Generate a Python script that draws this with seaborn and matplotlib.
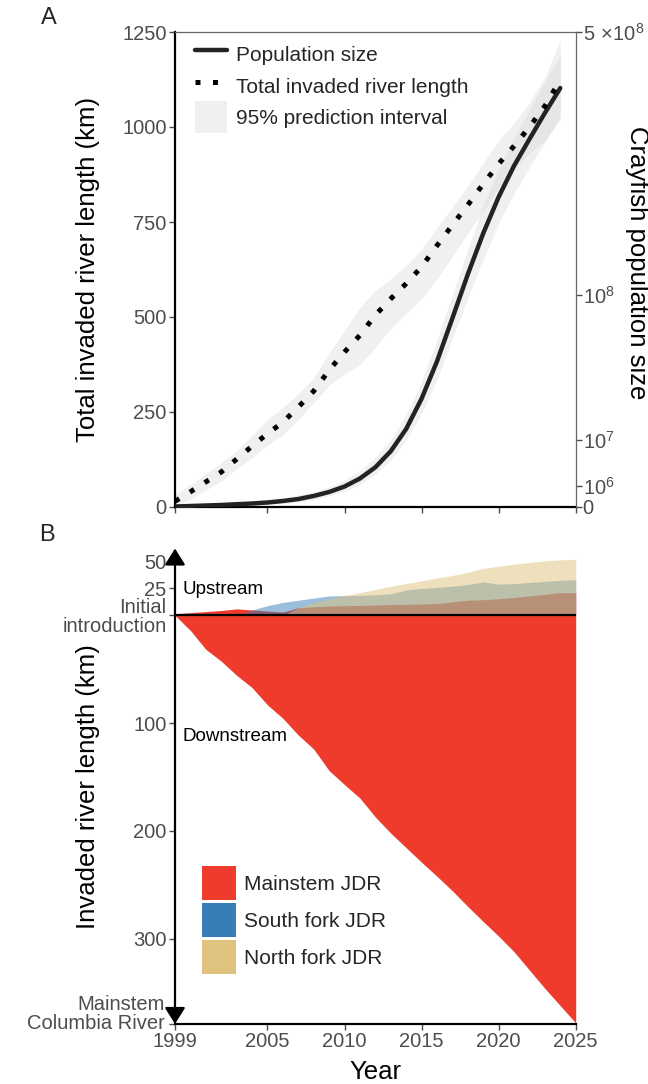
import numpy as np
import pandas as pd
import matplotlib
matplotlib.use("Agg")
import matplotlib.pyplot as plt
import matplotlib.transforms as mtransforms
import seaborn as sns
from matplotlib.lines import Line2D
from matplotlib.patches import Patch, Rectangle
from matplotlib.legend_handler import HandlerPatch

# ---------------- data ----------------
years_a = list(range(1999, 2025))
river_length = [15, 40, 66, 92, 126, 160, 193, 223, 263, 305, 360, 408, 452,
                505, 548, 588, 632, 688, 742, 795, 850, 903, 950, 1000, 1055, 1124]
river_lo = [0, 22, 45, 68, 100, 130, 163, 190, 230, 275, 320, 350, 375,
            420, 470, 510, 548, 600, 660, 720, 780, 840, 890, 930, 965, 1020]
river_hi = [35, 58, 88, 116, 148, 188, 230, 262, 298, 340, 405, 465, 525,
            570, 600, 635, 678, 735, 790, 845, 905, 965, 1010, 1065, 1130, 1230]
population = [550, 2200, 5000, 8900, 17000, 27000, 45000, 80000, 1.4e5, 2.7e5,
              5.0e5, 9.3e5, 1.8e6, 3.5e6, 6.9e6, 1.35e7, 2.6e7, 4.7e7, 7.9e7,
              1.2e8, 1.66e8, 2.13e8, 2.58e8, 3.0e8, 3.44e8, 3.89e8]
pop_lo = [0, 0, 550, 2200, 5000, 8900, 14000, 27000, 55000, 1.25e5, 2.7e5,
          5.3e5, 1.12e6, 2.4e6, 4.9e6, 9.9e6, 1.95e7, 3.6e7, 6.3e7, 9.7e7,
          1.36e8, 1.78e8, 2.18e8, 2.56e8, 2.95e8, 3.37e8]
pop_hi = [5000, 14000, 20000, 27000, 45000, 67000, 1.09e5, 1.8e5, 3.2e5, 5.0e5,
          8.9e5, 1.6e6, 2.9e6, 5.5e6, 1.0e7, 1.88e7, 3.5e7, 6.2e7, 1.0e8,
          1.47e8, 2.02e8, 2.53e8, 3.0e8, 3.5e8, 4.0e8, 4.53e8]

years_b = list(range(1999, 2026))
mainstem_down = [0, 14, 31.5, 42.5, 55.6, 67, 83, 95.5, 111, 124, 144, 157, 169.5,
                 187, 202, 215.5, 229, 242, 255.5, 270, 284, 297.5, 312, 329, 346,
                 362, 378]
mainstem_up = [1.5, 2.5, 3.5, 4.5, 6, 5, 4, 3, 7, 8, 8.6, 9, 9.2, 9.5, 10, 10.2,
               10.5, 11, 12.5, 14, 14.5, 15.4, 16.5, 18, 19.5, 21, 21]
south_fork = [0, 0, 0, 0, 0, 5, 9, 12, 14, 16, 18, 18.3, 18.5, 19, 20, 23.5, 25,
              26, 27, 28.5, 31, 29, 29.5, 30.5, 31.5, 32.5, 33]
north_fork = [0, 0, 0, 0, 0, 0, 0, 0, 7, 12, 15, 18.5, 21, 24, 27, 29.5, 32, 34.6,
              37, 40, 43.6, 45.5, 47.5, 49, 50.5, 51.5, 52]

year_ticks = [1999, 2005, 2010, 2015, 2020, 2025]
left_ticks_a = [0, 250, 500, 750, 1000, 1250]
right_ticks_a = [0, 1e6, 1e7, 1e8, 5e8]
right_labels_a = ["0", r"$10^{6}$", r"$10^{7}$", r"$10^{8}$", r"$5\,\times\!10^{8}$"]
b_ticks = [50, 25, 0, -100, -200, -300, -379]
b_labels = ["50", "25", "Initial\nintroduction", "100", "200", "300", ""]
bottom_label = "Mainstem\nColumbia River"

RED = "#ef3b2c"
BLUE = "#377eb8"
TAN = "#dfc27d"
GREY_TXT = "#4d4d4d"

# ---------------- style ----------------
sns.set_theme(style="white")
plt.rcParams["font.family"] = ["Liberation Sans", "DejaVu Sans"]
plt.rcParams["mathtext.fontset"] = "custom"
plt.rcParams["mathtext.rm"] = "Liberation Sans"
plt.rcParams["mathtext.it"] = "Liberation Sans:italic"
plt.rcParams["mathtext.bf"] = "Liberation Sans:bold"

W, H = 648, 1084
fig = plt.figure(figsize=(W / 100, H / 100), dpi=100)

TICK_FS = 14.5
TITLE_FS = 18.5
LEG_FS = 15


def square_patch(size_pt):
    def make(legend, orig_handle, xdescent, ydescent, width, height, fontsize):
        cy = -ydescent + height / 2.0
        return Rectangle((-xdescent, cy - size_pt / 2.0), width, size_pt)
    return make


# ---------------- panel A ----------------
ax = fig.add_axes([175 / W, 1 - 507 / H, 400.7 / W, 475 / H])
ax2 = ax.twinx()

df_a = pd.DataFrame({"year": years_a, "length": river_length, "pop": population})

ax.fill_between(years_a, river_lo, river_hi, color="#d4d4d4", alpha=0.35, lw=0)
ax.set_xlim(1999, 2025)
ax.set_ylim(0, 1250)
ax.set_yticks(left_ticks_a)
ax.set_xticks(year_ticks)
ax.set_xticklabels([])
ax.set_ylabel("Total invaded river length (km)", fontsize=TITLE_FS, color="black")
ax.yaxis.set_label_coords(-0.187, 0.5)
ax.set_xlabel("")

ax2.set_yscale("function", functions=(lambda v: np.sqrt(np.clip(v, 0, None)),
                                      lambda v: np.square(v)))
ax2.fill_between(years_a, pop_lo, pop_hi, color="#d4d4d4", alpha=0.35, lw=0, zorder=1)
sns.lineplot(data=df_a, x="year", y="pop", ax=ax2, color="#232323", lw=3.2,
             zorder=3, errorbar=None)
sns.lineplot(data=df_a, x="year", y="length", ax=ax2, color="black", lw=3.6,
             linestyle=(0, (1, 2.5)), transform=ax.transData, zorder=4,
             errorbar=None)
ax2.set_ylim(0, 5e8)
ax2.set_xlim(1999, 2025)
ax2.set_yticks(right_ticks_a)
ax2.set_yticklabels(right_labels_a)
ax2.set_xlabel("")
ax2.set_ylabel("Crayfish population size", fontsize=TITLE_FS, rotation=270,
               va="center", ha="center", color="black")
ax2.yaxis.set_label_coords(1.152, 0.515)

for s in ["top", "right"]:
    ax.spines[s].set_visible(False)
for s in ["left", "bottom"]:
    ax.spines[s].set_color("black")
    ax.spines[s].set_linewidth(1.6)
for s in ["left", "bottom"]:
    ax2.spines[s].set_visible(False)
for s in ["top", "right"]:
    ax2.spines[s].set_visible(True)
    ax2.spines[s].set_color("#666666")
    ax2.spines[s].set_linewidth(0.9)

ax.tick_params(axis="both", which="major", length=4, width=1, color="#4d4d4d",
               labelsize=TICK_FS, labelcolor=GREY_TXT, pad=2, left=True, bottom=True)
ax2.tick_params(axis="y", which="major", length=4, width=1, color="#4d4d4d",
                labelsize=TICK_FS, labelcolor=GREY_TXT, pad=1, right=True)
ax2.tick_params(axis="y", which="minor", length=0)
ax2.tick_params(axis="x", which="both", length=0, labelbottom=False)

leg_patch_a = Patch(facecolor="#f0f0f0", edgecolor="none")
leg_handles = [Line2D([], [], color="#232323", lw=3.2),
               Line2D([], [], color="black", lw=3.6, linestyle=(0, (1, 2.5))),
               leg_patch_a]
leg_labels = ["Population size", "Total invaded river length", "95% prediction interval"]
ax2.legend(leg_handles, leg_labels, loc="upper left",
           bbox_to_anchor=(0.05, 0.984), frameon=False, fontsize=LEG_FS,
           handlelength=1.55, handleheight=1.8, handletextpad=0.4,
           labelspacing=0.1, borderpad=0, borderaxespad=0,
           handler_map={leg_patch_a: HandlerPatch(patch_func=square_patch(23))})

fig.text(49 / W, 1 - 18 / H, "A", fontsize=17, ha="center", va="center")

# ---------------- panel B ----------------
bx = fig.add_axes([175 / W, 1 - 1024 / H, 400.7 / W, 475.5 / H])

df_b = pd.DataFrame({"year": years_b, "down": mainstem_down, "up": mainstem_up,
                     "south": south_fork, "north": north_fork})
df_b["down_neg"] = -df_b["down"]

bx.fill_between(df_b["year"], df_b["down_neg"], 0, color=RED, lw=0, zorder=1)
bx.fill_between(df_b["year"], 0, df_b["up"], color=RED, lw=0, zorder=1)
bx.fill_between(df_b["year"], 0, df_b["south"], color=BLUE, alpha=0.5, lw=0, zorder=2)
bx.fill_between(df_b["year"], 0, df_b["north"], color=TAN, alpha=0.5, lw=0, zorder=3)
sns.lineplot(x=[1999, 2025], y=[0, 0], ax=bx, color="black", lw=1.6, zorder=5)

bx.set_xlim(1999, 2025)
bx.set_ylim(-379, 62)
bx.set_xticks(year_ticks)
bx.set_xticklabels([str(y) for y in year_ticks])
bx.set_yticks(b_ticks)
bx.set_yticklabels(b_labels, linespacing=0.95)
bx.set_xlabel("Year", fontsize=TITLE_FS, color="black", labelpad=6)
bx.set_ylabel("Invaded river length (km)", fontsize=TITLE_FS, color="black")
bx.yaxis.set_label_coords(-0.187, 0.5)

# bottom two-line label, lifted slightly above its tick as in the reference
lab_tr = mtransforms.offset_copy(bx.get_yaxis_transform(), fig=fig,
                                 x=-10, y=10, units="dots")
bx.text(0, b_ticks[-1], bottom_label, transform=lab_tr, ha="right", va="center",
        fontsize=TICK_FS, color=GREY_TXT, linespacing=0.95, multialignment="right")

for s in ["top", "right", "left"]:
    bx.spines[s].set_visible(False)
bx.spines["bottom"].set_color("black")
bx.spines["bottom"].set_linewidth(1.6)
bx.tick_params(axis="both", which="major", length=4, width=1, color="#4d4d4d",
               labelsize=TICK_FS, labelcolor=GREY_TXT, pad=2, left=True, bottom=True)

bx.annotate("", xy=(0, 1), xycoords="axes fraction", xytext=(0, 0),
            textcoords="axes fraction",
            arrowprops=dict(arrowstyle="<|-|>,head_length=0.4,head_width=0.25",
                            color="black", lw=1.6, mutation_scale=25,
                            shrinkA=0, shrinkB=0),
            annotation_clip=False, zorder=10)

bx.text(1999.5, 24, "Upstream", fontsize=13.5, ha="left", va="center", color="black")
bx.text(1999.5, -112, "Downstream", fontsize=13.5, ha="left", va="center", color="black")

leg_b = [Patch(facecolor=RED, edgecolor="none"),
         Patch(facecolor=BLUE, edgecolor="none"),
         Patch(facecolor=TAN, edgecolor="none")]
bx.legend(leg_b, ["Mainstem JDR", "South fork JDR", "North fork JDR"],
          loc="upper left", bbox_to_anchor=((202 - 175) / 400.7, (1024 - 866) / 475.5),
          frameon=False, fontsize=LEG_FS, handlelength=1.65, handleheight=2.14,
          handletextpad=0.35, labelspacing=0.15, borderpad=0, borderaxespad=0)

fig.text(47 / W, 1 - 535 / H, "B", fontsize=17, ha="center", va="center")

fig.savefig("out.png", dpi=100)
